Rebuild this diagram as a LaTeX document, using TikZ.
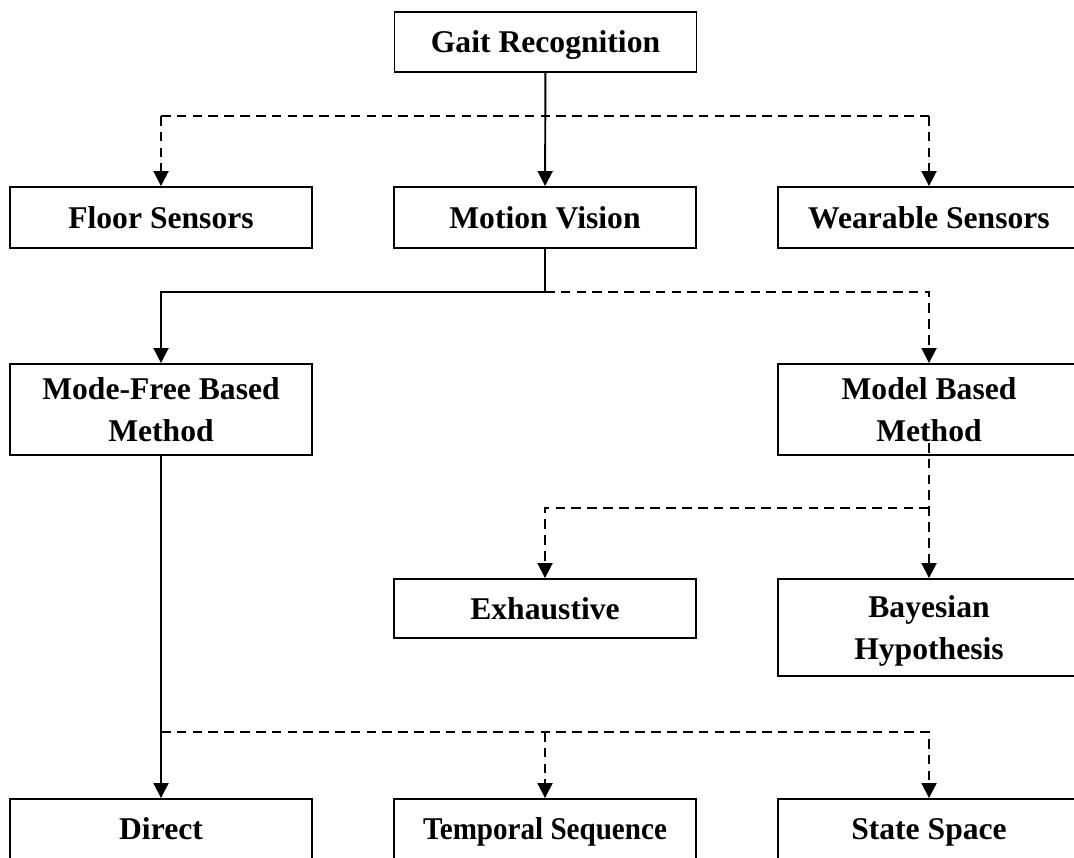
\documentclass[tikz,border=0pt]{standalone}
\usepackage{fontspec}
\setmainfont{Liberation Serif}
\usetikzlibrary{arrows.meta}

\tikzstyle{box}=[draw, line width=1.1pt, minimum width=6.04cm, align=center, inner sep=0pt, text depth=0pt, font=\bfseries\fontsize{18}{23.5}\selectfont]
\tikzstyle{link}=[line width=1.1pt]
\tikzstyle{arrow}=[link, -{Triangle[length=3mm, width=3mm]}]
\tikzstyle{weak}=[dash pattern=on 5.5pt off 3.5pt]

\begin{document}
\begin{tikzpicture}
  \useasboundingbox (0,0) rectangle (21.48,-17.14);

  \node[box, minimum height=1.2cm] (gait) at (10.91,-0.84) {Gait Recognition};
  \node[box, minimum height=1.22cm] (floor) at (3.22,-4.35) {Floor Sensors};
  \node[box, minimum height=1.22cm] (motion) at (10.90,-4.35) {Motion Vision};
  \node[box, minimum height=1.22cm] (wear) at (18.58,-4.35) {Wearable Sensors};
  \node[box, minimum height=1.82cm] (modefree) at (3.22,-8.19) {Mode-Free Based\\Method};
  \node[box, minimum height=1.82cm] (model) at (18.58,-8.19) {Model Based\\Method};
  \node[box, minimum height=1.18cm] (exhaust) at (10.90,-12.17) {Exhaustive};
  \node[box, minimum height=1.94cm] (bayes) at (18.58,-12.55) {Bayesian\\Hypothesis};
  \node[box, minimum height=1.2cm] (direct) at (3.22,-16.58) {Direct};
  \node[box, minimum height=1.2cm] (temporal) at (10.90,-16.58) {\scalebox{0.92}[1]{Temporal Sequence}};
  \node[box, minimum height=1.2cm] (state) at (18.58,-16.58) {State Space};

  \coordinate (s1) at (10.90,-2.32);
  \coordinate (s2) at (10.90,-5.84);
  \coordinate (s3) at (10.90,-10.16);
  \coordinate (s4) at (10.90,-14.64);

  % sensing level
  \draw[link, weak] (floor |- s1) -- (wear |- s1);
  \draw[arrow, weak] (floor |- s1) -- (floor);
  \draw[arrow, weak] (wear |- s1) -- (wear);
  \draw[arrow] (gait) -- (motion);

  % vision methods
  \draw[link] (motion) -- (s2);
  \draw[arrow] (s2) -| (modefree);
  \draw[arrow, weak] (s2) -| (model);

  % model based
  \draw[arrow, weak] ([yshift=0.26cm]model.south) -- (bayes);
  \draw[arrow, weak] (model |- s3) -| (exhaust);

  % model free
  \draw[arrow] (modefree) -- (direct);
  \draw[arrow, weak] (modefree |- s4) -| (state);
  \draw[arrow, weak] (temporal |- s4) -- (temporal);
\end{tikzpicture}
\end{document}
